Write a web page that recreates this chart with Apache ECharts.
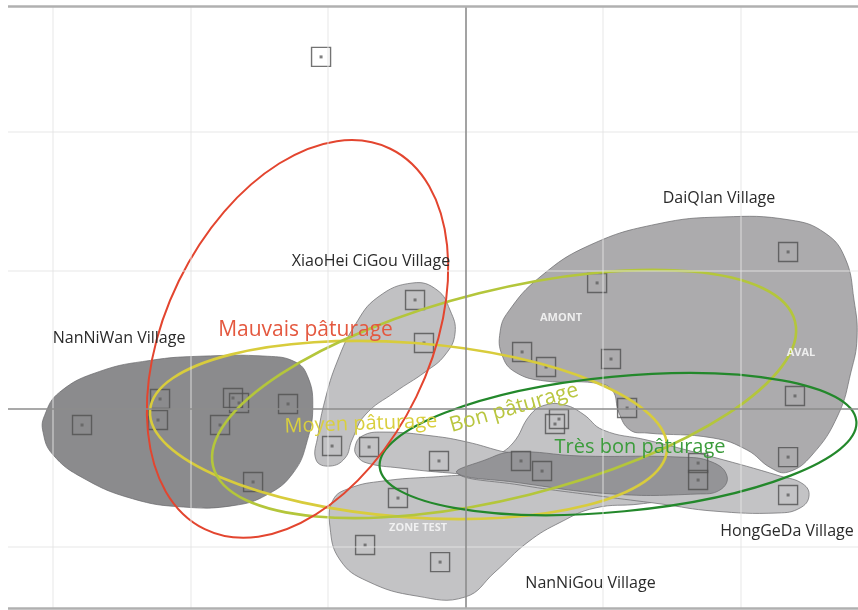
<!DOCTYPE html>
<html><head><meta charset="utf-8">
<script src="https://cdn.jsdelivr.net/npm/echarts@6/dist/echarts.min.js"></script>
<style>html,body{margin:0;padding:0;background:#fff}#c{width:858px;height:610px}</style>
</head><body><div id="c"></div>
<script>
// axis extents (one unit = one grid cell)
const X_MIN = -3.325, X_MAX = 2.852, Y_MIN = -1.44, Y_MAX = 2.912;
const gridX = [-3, -2, -1, 1, 2];
const gridY = [2, 1, -1];

// observation points (factor map scores)
const points = [
  [-1.050, 2.544], [-0.367, 0.787], [-0.302, 0.476], [-0.970, -0.269],
  [-2.787, -0.117], [-2.220, 0.071], [-2.235, -0.081], [-1.690, 0.078],
  [-1.646, 0.042], [-1.784, -0.117], [-1.290, 0.035], [-1.544, -0.529],
  [-0.701, -0.276], [-0.193, -0.377], [-0.491, -0.645], [-0.730, -0.985],
  [-0.185, -1.108], [0.956, 0.910], [2.344, 1.134], [0.411, 0.411],
  [0.585, 0.302], [1.057, 0.360], [1.174, 0.006], [2.394, 0.093],
  [2.344, -0.349], [0.679, -0.074], [0.650, -0.110], [0.403, -0.377],
  [0.556, -0.450], [1.690, -0.392], [1.690, -0.515], [2.344, -0.623]
];

// village hulls
const blobNanNiWan = [[-3.06,-0.05],[-2.95,0.12],[-2.66,0.27],[-2.29,0.35],[-1.93,0.38],[-1.44,0.38],[-1.24,0.34],[-1.15,0.24],[-1.11,0.03],[-1.15,-0.23],[-1.25,-0.46],[-1.44,-0.62],[-1.69,-0.70],[-2.05,-0.71],[-2.42,-0.65],[-2.78,-0.50],[-3.00,-0.33],[-3.07,-0.17]];
const blobXiaoHei = [[-0.382,0.910],[-0.207,0.859],[-0.113,0.714],[-0.076,0.548],[-0.149,0.389],[-0.294,0.266],[-0.512,0.121],[-0.730,-0.045],[-0.825,-0.226],[-0.876,-0.356],[-0.985,-0.414],[-1.086,-0.370],[-1.072,-0.189],[-1.021,0.064],[-0.934,0.338],[-0.803,0.606],[-0.636,0.808]];
const blobDaiQian = [[0.309,0.700],[0.541,0.953],[0.905,1.184],[1.392,1.336],[1.871,1.387],[2.358,1.365],[2.612,1.271],[2.758,1.090],[2.823,0.787],[2.845,0.512],[2.801,0.266],[2.707,-0.045],[2.518,-0.334],[2.344,-0.457],[2.220,-0.428],[2.046,-0.298],[1.799,-0.211],[1.319,-0.175],[1.195,-0.153],[1.115,-0.030],[1.065,0.136],[0.941,0.187],[0.578,0.201],[0.360,0.266],[0.265,0.389],[0.251,0.555]];
const blobHongGeDa = [[-0.062,-0.464],[0.200,-0.349],[0.345,-0.247],[0.469,-0.045],[0.578,0.027],[0.723,0.027],[0.854,-0.038],[0.999,-0.153],[1.319,-0.226],[1.799,-0.349],[2.286,-0.486],[2.453,-0.544],[2.496,-0.631],[2.431,-0.717],[2.271,-0.753],[1.799,-0.739],[1.421,-0.688],[0.977,-0.631],[0.396,-0.551]];
const blobBand = [[-0.803,-0.276],[-0.752,-0.197],[-0.600,-0.168],[-0.236,-0.197],[0.011,-0.240],[0.251,-0.305],[0.396,-0.341],[0.105,-0.471],[-0.113,-0.464],[-0.476,-0.428],[-0.716,-0.392],[-0.788,-0.341]];
const blobOverlap = [[-0.062,-0.464],[0.142,-0.370],[0.345,-0.312],[0.832,-0.341],[1.559,-0.349],[1.791,-0.385],[1.900,-0.486],[1.849,-0.587],[1.682,-0.616],[1.072,-0.616],[0.345,-0.529]];
const blobNanNiGou = [[-0.985,-0.855],[-0.963,-0.659],[-0.839,-0.573],[-0.600,-0.522],[-0.236,-0.493],[0.033,-0.486],[0.396,-0.544],[0.977,-0.609],[1.413,-0.659],[1.268,-0.688],[0.941,-0.717],[0.694,-0.818],[0.454,-0.963],[0.214,-1.180],[-0.004,-1.361],[-0.352,-1.354],[-0.716,-1.245],[-0.912,-1.093]];

// confidence ellipses: [centerX, centerY, semiAxisX, semiAxisY, rotationDeg]
const ellMauvais = [-1.221, 0.505, 0.96, 1.53, -26];
const ellMoyen = [-0.414, -0.153, 1.884, 0.63, -4.35];
const ellBon = [0.28, 0.107, 2.179, 0.75, 14];
const ellTresBon = [1.108, -0.255, 1.74, 0.488, 5.5];

// labels
const villageNames = ['NanNiWan Village', 'XiaoHei CiGou Village', 'DaiQIan Village', 'HongGeDa Village', 'NanNiGou Village'];
const villagePos = [[-2.518, 0.512], [-0.687, 1.062], [1.842, 1.524], [2.336, -0.884], [0.908, -1.260]];
const classNames = ['Mauvais pâturage', 'Moyen pâturage', 'Bon pâturage', 'Très bon pâturage'];
const classPos = [[-1.163, 0.570], [-0.760, -0.110], [0.352, 0.006], [1.268, -0.276]];
const classAngle = [0, 2, 16, 0];
const zoneNames = ['AMONT', 'AVAL', 'ZONE TEST'];
const zonePos = [[0.694, 0.657], [2.438, 0.403], [-0.345, -0.862]];

// ---- styling (not data) ----
const blobs = [
  { poly: blobNanNiGou, fill: '#c3c3c5' },
  { poly: blobHongGeDa, fill: '#c3c3c5' },
  { poly: blobBand, fill: '#c3c3c5' },
  { poly: blobOverlap, fill: '#949497' },
  { poly: blobXiaoHei, fill: '#c1c1c3' },
  { poly: blobDaiQian, fill: '#acabad' },
  { poly: blobNanNiWan, fill: '#8b8b8d' }
];
const ellipses = [
  { e: ellMoyen, color: '#d8cc3c', w: 2.6 },
  { e: ellBon, color: '#b4c63b', w: 2.6 },
  { e: ellTresBon, color: '#23882b', w: 2.2 },
  { e: ellMauvais, color: '#e3452f', w: 2 }
];
const classColors = ['#e4583f', '#d9cf3e', '#b9c640', '#3c9c3c'];
const classFonts = ['21px "Open Sans"', '20px "Open Sans"', '21px "Open Sans"', '20px "Open Sans"'];

const texts = [];
villageNames.forEach((t, i) => texts.push({ t, p: villagePos[i], color: '#2a2a2a', font: '16px "Open Sans"', rot: 0 }));
classNames.forEach((t, i) => texts.push({ t, p: classPos[i], color: classColors[i], font: classFonts[i], rot: classAngle[i] }));
zoneNames.forEach((t, i) => texts.push({ t, p: zonePos[i], color: 'rgba(245,245,245,0.9)', font: 'bold 11px "Open Sans"', rot: 0 }));

const chart = echarts.init(document.getElementById('c'));
const gridLine = { color: '#e3e3e3', opacity: 0.6, width: 1.5, type: 'solid' };
chart.setOption({
  animation: false,
  grid: { left: 8, right: 0, top: 6, bottom: 2 },
  xAxis: { type: 'value', min: X_MIN, max: X_MAX, show: false },
  yAxis: { type: 'value', min: Y_MIN, max: Y_MAX, show: false },
  series: [
    {
      type: 'custom', z: 1, silent: true,
      data: blobs.map((b, i) => [b.poly[0][0], b.poly[0][1], i]),
      renderItem: function (params, api) {
        const b = blobs[params.dataIndex];
        const pts = b.poly.map(p => api.coord(p));
        return { type: 'polygon', shape: { points: pts, smooth: 0.45 },
          style: { fill: b.fill, stroke: 'rgba(105,105,108,0.7)', lineWidth: 1 } };
      }
    },
    {
      type: 'line', z: 2, data: [], silent: true,
      markLine: {
        symbol: 'none', silent: true, label: { show: false }, animation: false,
        data: [
          ...gridX.map(v => ({ xAxis: v, lineStyle: gridLine })),
          ...gridY.map(v => ({ yAxis: v, lineStyle: gridLine })),
          { xAxis: 0, lineStyle: { color: '#8c8c8c', width: 1.6, type: 'solid' } },
          { yAxis: 0, lineStyle: { color: '#8c8c8c', width: 1.6, type: 'solid' } },
          { xAxis: X_MIN, lineStyle: { color: '#b0b0b0', width: 2.5, type: 'solid' } },
          { yAxis: Y_MAX, lineStyle: { color: '#b0b0b0', width: 2.5, type: 'solid' } },
          { yAxis: Y_MIN, lineStyle: { color: '#b0b0b0', width: 2.5, type: 'solid' } }
        ]
      }
    },
    {
      type: 'scatter', z: 3, silent: true, data: points,
      symbol: 'rect', symbolSize: 19,
      itemStyle: { color: 'rgba(0,0,0,0)', borderColor: '#505050', borderWidth: 1.4 }
    },
    {
      type: 'scatter', z: 3, silent: true, data: points,
      symbol: 'rect', symbolSize: 3,
      itemStyle: { color: '#606060' }
    },
    {
      type: 'custom', z: 4, silent: true,
      data: ellipses.map((d, i) => [d.e[0], d.e[1], i]),
      renderItem: function (params, api) {
        const d = ellipses[params.dataIndex];
        const e = d.e;
        const c = api.coord([e[0], e[1]]);
        const s = api.size([e[2], e[3]]);
        return { type: 'ellipse', x: c[0], y: c[1], rotation: e[4] * Math.PI / 180,
          shape: { cx: 0, cy: 0, rx: s[0], ry: s[1] },
          style: { fill: 'none', stroke: d.color, lineWidth: d.w } };
      }
    },
    {
      type: 'custom', z: 5, silent: true,
      data: texts.map((d, i) => [d.p[0], d.p[1], i]),
      renderItem: function (params, api) {
        const d = texts[params.dataIndex];
        const c = api.coord(d.p);
        return { type: 'text', x: c[0], y: c[1], rotation: d.rot * Math.PI / 180,
          style: { text: d.t, fill: d.color, font: d.font, align: 'center', verticalAlign: 'middle' } };
      }
    }
  ]
});
</script></body></html>
